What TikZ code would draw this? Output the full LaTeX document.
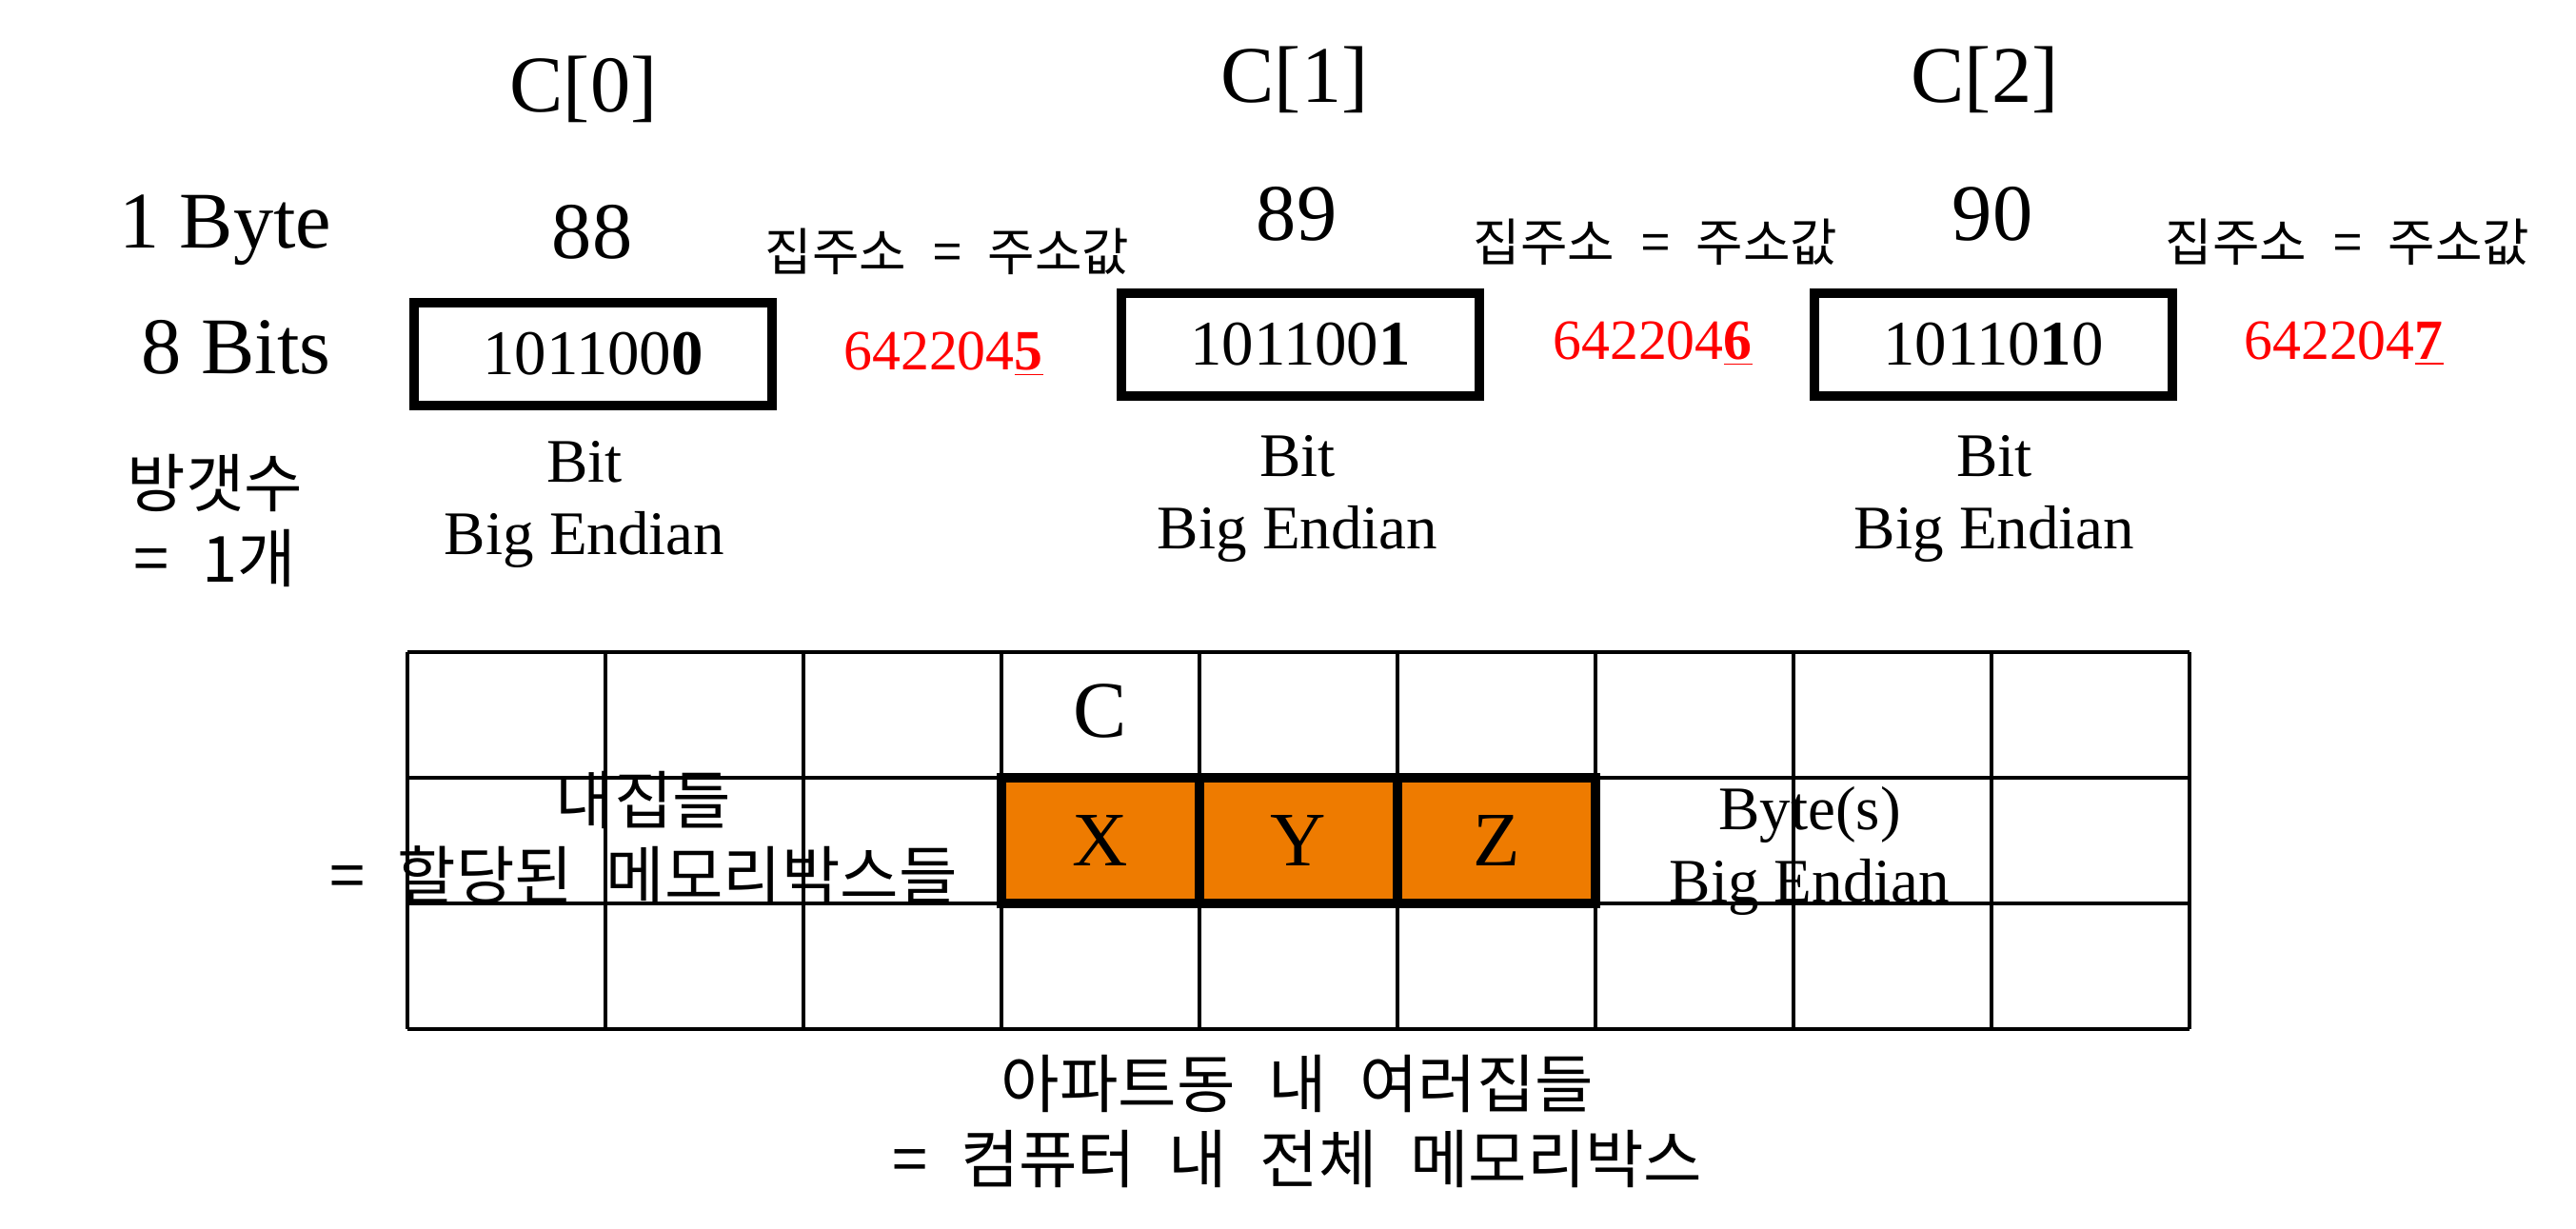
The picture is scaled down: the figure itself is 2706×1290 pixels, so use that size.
\documentclass[tikz,border=0pt]{standalone}
\usepackage{fontspec}
\setmainfont{Liberation Serif}
\newfontfamily\krfont[WordSpace=2.3]{Noto Sans CJK KR}
\usepackage{xcolor}
\usepackage{tikz}
\usetikzlibrary{positioning}
\definecolor{myred}{RGB}{255,0,0}
\definecolor{myorange}{RGB}{238,123,0}
\definecolor{mydark}{RGB}{0,0,0}
\tikzset{
  bigtxt/.style={font=\fontsize{24}{28}\selectfont, inner sep=0pt},
  midtxt/.style={align=center, font=\fontsize{18.5}{21.5}\selectfont, inner sep=0pt},
  krtxt/.style={align=center, font=\krfont\fontsize{19}{22.5}\selectfont, inner sep=0pt},
  addrtxt/.style={font=\krfont\fontsize{15.3}{18}\selectfont, inner sep=0pt},
  redtxt/.style={font=\fontsize{17}{20}\selectfont, text=myred, inner sep=0pt, anchor=base},
  bitbox/.style={rectangle, draw=mydark, line width=0.1cm, minimum width=3.76cm, minimum height=1.08cm, inner sep=0pt, font=\fontsize{19}{23}\selectfont},
  cellbox/.style={rectangle, draw=mydark, fill=myorange, line width=0.1cm, minimum width=2.08cm, minimum height=1.32cm, inner sep=0pt, font=\fontsize{23}{27}\selectfont},
  line/.style={line width=0.9pt, color=mydark}
}

\begin{document}
\begin{tikzpicture}[x=0.01cm, y=-0.01cm]
  \fill[white] (0,0) rectangle (2706,1290);
  \useasboundingbox (0,0) rectangle (2706,1290);

  % Header row
  \node[bigtxt] (c0) at (613,94) {C[0]};
  \node[bigtxt] (c1) at (1360,84) {C[1]};
  \node[bigtxt] (c2) at (2085,84) {C[2]};

  % Values
  \node[bigtxt] (byte) at (237,242) {1 Byte};
  \node[bigtxt] (v0) at (622,244) {88};
  \node[bigtxt] (v1) at (1362,225) {89};
  \node[bigtxt] (v2) at (2093,225) {90};
  \node[addrtxt] (a0) at (995,264) {집주소 = 주소값};
  \node[addrtxt] (a1) at (1739,254) {집주소 = 주소값};
  \node[addrtxt] (a2) at (2466,254) {집주소 = 주소값};

  % Bits
  \node[bigtxt] (bits) at (248,365) {8 Bits};
  \node[bitbox] (b0) at (623,372) {101100\textbf{0}};
  \node[bitbox] (b1) at (1366,362) {101100\textbf{1}};
  \node[bitbox] (b2) at (2094,362) {10110\textbf{1}0};
  \node[redtxt] (r0) at (991,388) {642204\underline{\textbf{5}}};
  \node[redtxt] (r1) at (1736,377) {642204\underline{\textbf{6}}};
  \node[redtxt] (r2) at (2462,377) {642204\underline{\textbf{7}}};

  % Labels under the boxes
  \node[krtxt] (count) at (226,547) {방갯수\\= 1개};
  \node[midtxt] (e0) at (614,530) {Bit\\Big Endian};
  \node[midtxt] (e1) at (1363,524) {Bit\\Big Endian};
  \node[midtxt] (e2) at (2095,524) {Bit\\Big Endian};

  % Memory grid
  \foreach \i in {0,...,9}
    \draw[line] (428+208*\i,685) -- (428+208*\i,1081);
  \foreach \j in {0,...,3}
    \draw[line] (428,685+132*\j) -- (2300,685+132*\j);

  \node[bigtxt] (cvar) at (1156,747) {C};
  \node[cellbox] (cellx) at (1156,883) {X};
  \node[cellbox] (celly) at (1364,883) {Y};
  \node[cellbox] (cellz) at (1572,883) {Z};

  \node[krtxt] (house) at (676,880) {내집들\\= 할당된 메모리박스들};
  \node[midtxt] (bytes) at (1901,894) {Byte(s)\\Big Endian};
  \node[krtxt] (apt) at (1363,1178) {아파트동 내 여러집들\\= 컴퓨터 내 전체 메모리박스};
\end{tikzpicture}
\end{document}
